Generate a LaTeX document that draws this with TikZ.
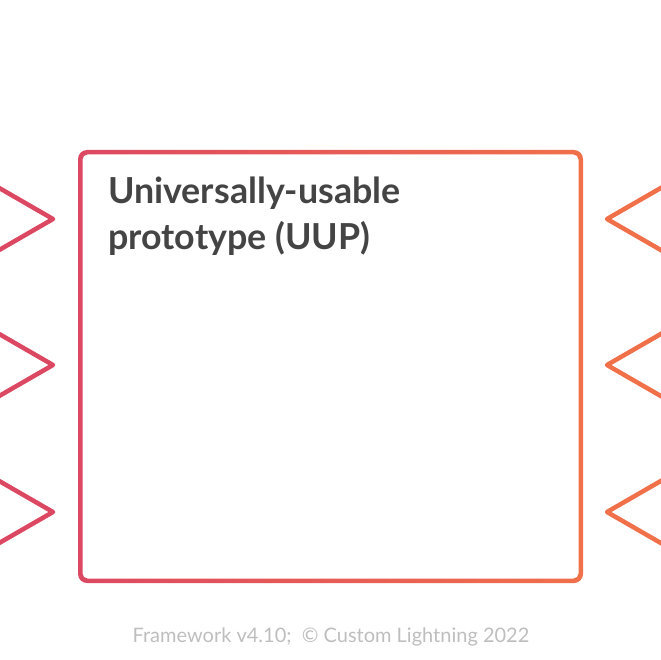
\documentclass[tikz,border=0pt]{standalone}
\usepackage{fontspec}
\setmainfont{Lato}
\usetikzlibrary{positioning}
\definecolor{uupred}{RGB}{220,72,98}
\definecolor{uuporange}{RGB}{240,112,74}
\definecolor{titlegray}{RGB}{68,68,68}
\definecolor{footgray}{RGB}{190,190,190}

\begin{document}
\begin{tikzpicture}
    [line cap=round,line join=round,x=1pt,y=-1pt,
     chevron/.style={line width=4.5pt}]
\useasboundingbox (0,0) rectangle (660,660);
%frame of the prototype, stroke shaded from red to orange
 \shade[left color=uupred,right color=uuporange,even odd rule]
   [rounded corners=9pt] (78,150) rectangle (583,583)
   [rounded corners=5pt] (82.5,154.5) rectangle (578.5,578.5);

%chevrons on both sides
 \foreach \yy in {219,365,512}{
   \draw[chevron,uupred] (-6,\yy-34) -- (53,\yy) -- (-6,\yy+34);
   \draw[chevron,uuporange] (666,\yy-34) -- (607,\yy) -- (666,\yy+34);
 }

 \node[anchor=base west,inner sep=0pt,align=left,text=titlegray,
       font=\bfseries\fontsize{35.8}{46}\selectfont] (title) at (108,249)
       {Universally-usable\\prototype (UUP)};

 \node[anchor=base,inner sep=0pt,text=footgray,
       font=\fontsize{20}{24}\selectfont] (footer) at (331,642)
       {Framework v4.10;\ \ © Custom Lightning 2022};
\end{tikzpicture}
\end{document}
